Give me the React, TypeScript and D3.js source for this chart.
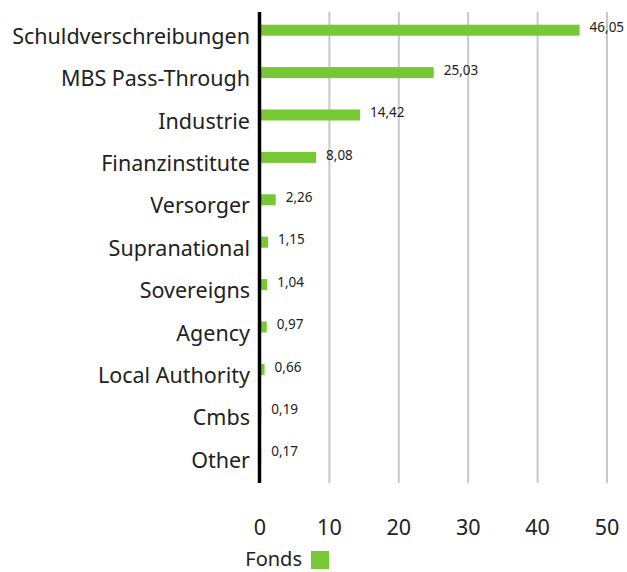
import { scaleLinear, scaleBand } from 'd3';

const categories = [
  'Schuldverschreibungen',
  'MBS Pass-Through',
  'Industrie',
  'Finanzinstitute',
  'Versorger',
  'Supranational',
  'Sovereigns',
  'Agency',
  'Local Authority',
  'Cmbs',
  'Other',
];
const fondsValues = [46.05, 25.03, 14.42, 8.08, 2.26, 1.15, 1.04, 0.97, 0.66, 0.19, 0.17];
const xTicks = [0, 10, 20, 30, 40, 50];
const seriesName = 'Fonds';

const green = '#76c935';
const font = '"Noto Sans", "Open Sans", sans-serif';

export default function App() {
  const width = 627;
  const height = 572;
  const x = scaleLinear().domain([0, 50]).range([260, 607]);
  const y = scaleBand().domain(categories).range([9, 475.4]);
  const barH = 11;

  const fmt = (v: number) => v.toFixed(2).replace('.', ',');

  return (
    <svg width={width} height={height} style={{ position: 'absolute', left: 0, top: 0 }}>
      {xTicks.slice(1).map((t) => (
        <line key={t} x1={x(t)} x2={x(t)} y1={12} y2={483} stroke="#c8c8c8" strokeWidth={2} />
      ))}
      {categories.map((c, i) => {
        const yc = (y(c) ?? 0) + y.bandwidth() / 2;
        return (
          <g key={c}>
            <rect x={x(0)} y={yc - barH / 2} width={x(fondsValues[i]) - x(0)} height={barH} fill={green} />
            <text x={x(fondsValues[i]) + 10} y={yc - 2.5} dy="0.35em" fontSize={13.5} fontFamily={font} fill="#222">
              {fmt(fondsValues[i])}
            </text>
            <text x={250} y={yc + 6} dy="0.35em" textAnchor="end" fontSize={21.5} fontFamily={font} fill="#222">
              {c}
            </text>
          </g>
        );
      })}
      <line x1={259.5} x2={259.5} y1={12} y2={483} stroke="#000" strokeWidth={3.5} />
      {xTicks.map((t) => (
        <text key={t} x={x(t)} y={527} dy="0.35em" textAnchor="middle" fontSize={21.5} fontFamily={font} fill="#222">
          {t}
        </text>
      ))}
      <text x={302} y={559} dy="0.35em" textAnchor="end" fontSize={20} fontFamily={font} fill="#222">
        {seriesName}
      </text>
      <rect x={311} y={551} width={18} height={18} fill={green} />
    </svg>
  );
}
